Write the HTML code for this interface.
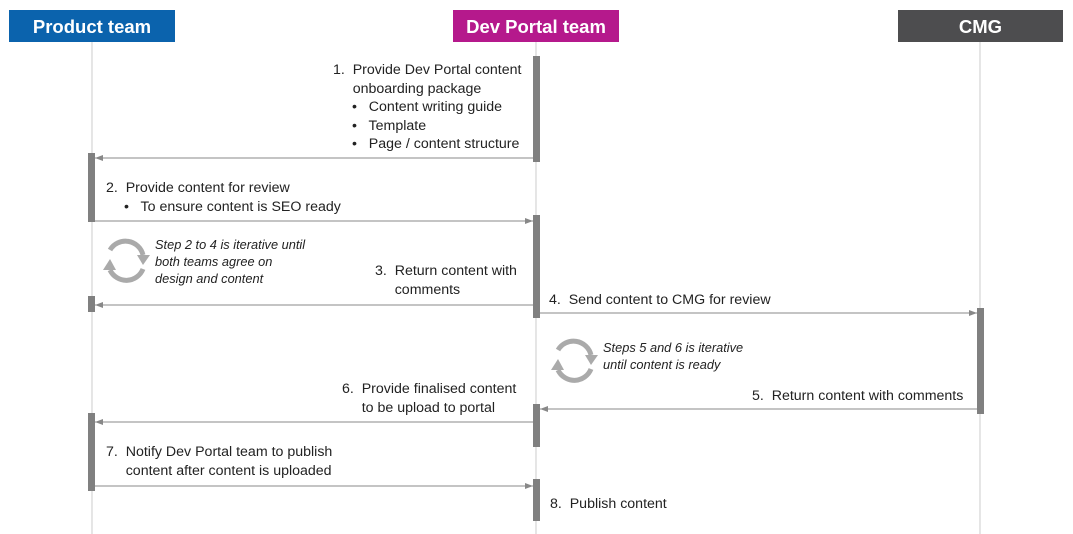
<!DOCTYPE html>
<html><head><style>
body{margin:0;width:1073px;height:534px;background:#fff;position:relative;overflow:hidden;font-family:"Liberation Sans",sans-serif;color:#222}
.h{position:absolute;top:10px;height:32px;color:#fff;font-weight:bold;font-size:18.5px;line-height:34px;text-align:center}
.t{position:absolute;font-size:14.2px;line-height:18.5px;white-space:nowrap}
.i{position:absolute;font-size:12.8px;font-style:italic;line-height:17px;white-space:nowrap}
.b{position:absolute;width:7px;background:#808080}
</style></head><body>
<div class="h" style="left:9px;width:166px;background:#0b63ad">Product team</div>
<div class="h" style="left:453px;width:166px;background:#b5198c">Dev Portal team</div>
<div class="h" style="left:898px;width:165px;background:#4d4d4f">CMG</div>
<svg width="1073" height="534" style="position:absolute;left:0;top:0">
<defs><marker id="a" markerWidth="8" markerHeight="6" refX="8" refY="3" orient="auto" markerUnits="userSpaceOnUse"><path d="M0,0L8,3L0,6z" fill="#888"/></marker></defs>
<g stroke="#d4d4d4" stroke-width="1.2">
<line x1="92" y1="42" x2="92" y2="534"/><line x1="536" y1="42" x2="536" y2="534"/><line x1="980" y1="42" x2="980" y2="534"/></g>
<g stroke="#888" stroke-width="1" marker-end="url(#a)">
<line x1="533" y1="158" x2="95" y2="158"/>
<line x1="95" y1="221" x2="533" y2="221"/>
<line x1="533" y1="305" x2="95" y2="305"/>
<line x1="540" y1="313" x2="977" y2="313"/>
<line x1="977" y1="409" x2="540" y2="409"/>
<line x1="533" y1="422" x2="95" y2="422"/>
<line x1="95" y1="486" x2="533" y2="486"/>
</g>
<g fill="none" stroke="#aaa" stroke-width="5">
<path d="M110,250 A18,18 0 0 1 143,255"/><path d="M143,269 A18,18 0 0 1 110,270"/>
<path d="M558,350 A18,18 0 0 1 591,355"/><path d="M591,369 A18,18 0 0 1 558,370"/>
</g>
<g fill="#aaa">
<path d="M137,255 L150,255 L143,265z"/><path d="M103,270 L116,270 L110,259z"/>
<path d="M585,355 L598,355 L591,365z"/><path d="M551,370 L564,370 L558,359z"/>
</g>
</svg>
<div class="b" style="left:533px;top:56px;height:106px"></div>
<div class="b" style="left:88px;top:153px;height:69px"></div>
<div class="b" style="left:533px;top:215px;height:103px"></div>
<div class="b" style="left:88px;top:296px;height:16px"></div>
<div class="b" style="left:977px;top:308px;height:106px"></div>
<div class="b" style="left:533px;top:404px;height:43px"></div>
<div class="b" style="left:88px;top:413px;height:78px"></div>
<div class="b" style="left:533px;top:479px;height:42px"></div>
<div class="t" style="left:333px;top:61px">1.&nbsp; Provide Dev Portal content<br>&nbsp;&nbsp;&nbsp;&nbsp;&nbsp;onboarding package</div>
<div class="t" style="left:352px;top:98px">•&nbsp;&nbsp; Content writing guide<br>•&nbsp;&nbsp; Template<br>•&nbsp;&nbsp; Page / content structure</div>
<div class="t" style="left:106px;top:179px">2.&nbsp; Provide content for review</div>
<div class="t" style="left:124px;top:198px">•&nbsp;&nbsp; To ensure content is SEO ready</div>
<div class="i" style="left:155px;top:236px">Step 2 to 4 is iterative until<br>both teams agree on<br>design and content</div>
<div class="t" style="left:375px;top:262px">3.&nbsp; Return content with<br>&nbsp;&nbsp;&nbsp;&nbsp;&nbsp;comments</div>
<div class="t" style="left:549px;top:291px">4.&nbsp; Send content to CMG for review</div>
<div class="i" style="left:603px;top:339px">Steps 5 and 6 is iterative<br>until content is ready</div>
<div class="t" style="left:752px;top:387px">5.&nbsp; Return content with comments</div>
<div class="t" style="left:342px;top:380px">6.&nbsp; Provide finalised content<br>&nbsp;&nbsp;&nbsp;&nbsp;&nbsp;to be upload to portal</div>
<div class="t" style="left:106px;top:443px">7.&nbsp; Notify Dev Portal team to publish<br>&nbsp;&nbsp;&nbsp;&nbsp;&nbsp;content after content is uploaded</div>
<div class="t" style="left:550px;top:495px">8.&nbsp; Publish content</div>
</body></html>
